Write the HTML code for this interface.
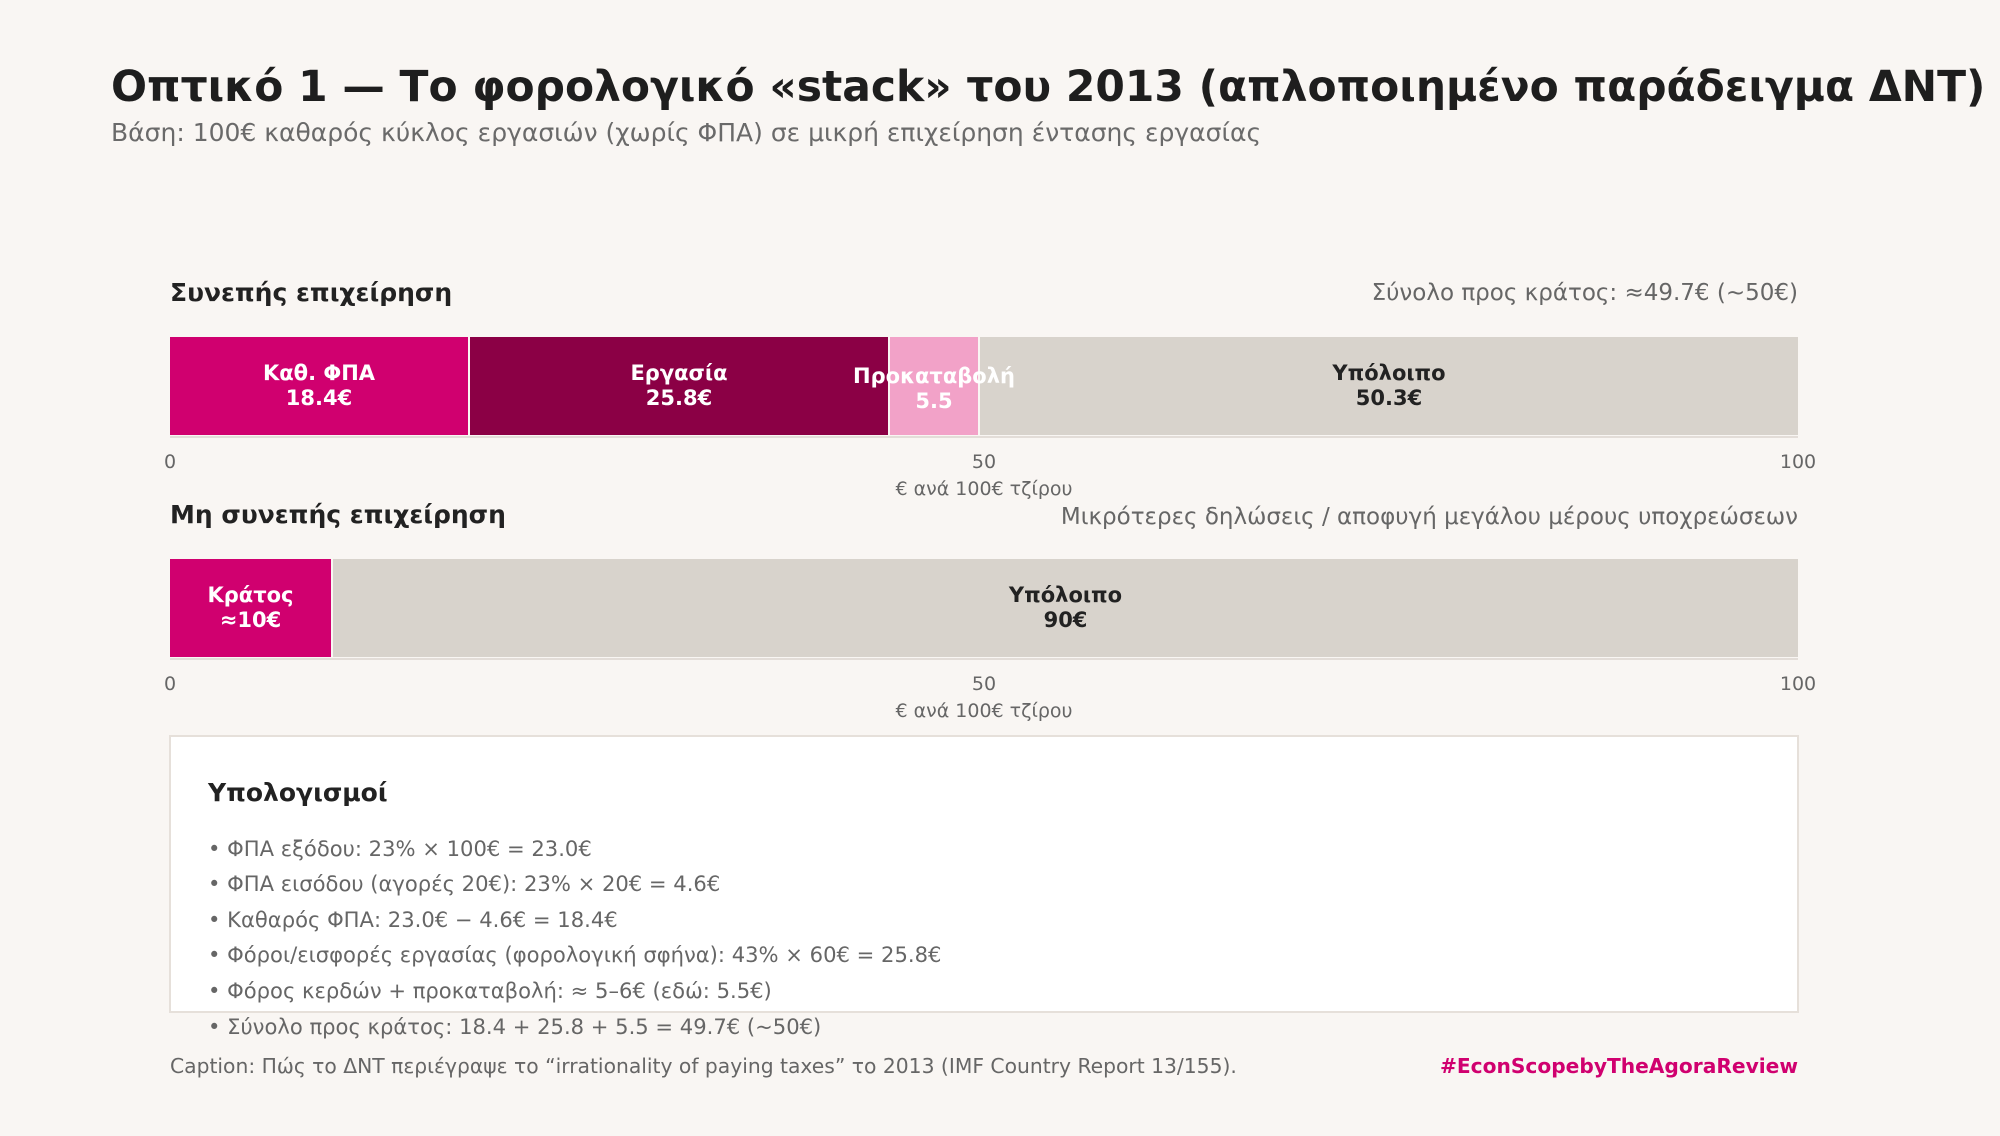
<!DOCTYPE html>
<html><head><meta charset="utf-8"><style>
body{margin:0;width:2000px;height:1136px;background:#f9f6f3;font-family:"DejaVu Sans","Liberation Sans",sans-serif;position:relative;overflow:hidden}
.a{position:absolute;white-space:nowrap}
.seg{position:absolute;box-sizing:border-box;border-right:2px solid #f9f6f3;display:flex;align-items:center;justify-content:center;text-align:center;font-weight:bold;font-size:21px;line-height:25px;color:#fff;overflow:visible}
.tick{position:absolute;font-size:19px;color:#666;transform:translateX(-50%)}
.sec{position:absolute;font-weight:bold;font-size:25px;color:#222}
.b{position:absolute;left:208px;font-size:21.1px;color:#666}
</style></head><body>
<div class="a" style="left:111px;top:62px;font-size:42.4px;font-weight:bold;color:#1e1e1e">Οπτικό 1 — Το φορολογικό «stack» του 2013 (απλοποιημένο παράδειγμα ΔΝΤ)</div>
<div class="a" style="left:111px;top:118px;font-size:25px;color:#6a6a6a">Βάση: 100€ καθαρός κύκλος εργασιών (χωρίς ΦΠΑ) σε μικρή επιχείρηση έντασης εργασίας</div>

<div class="sec" style="left:170px;top:278px">Συνεπής επιχείρηση</div>
<div class="a" style="right:202px;top:280px;font-size:23px;color:#666">Σύνολο προς κράτος: ≈49.7€ (~50€)</div>
<div class="a" style="left:170px;top:336px;width:1628px;height:100px;border-bottom:2px solid #e3ddd8"></div>
<div class="seg" style="left:170px;top:337px;width:300px;height:98px;background:#d0006f">Καθ. ΦΠΑ<br>18.4€</div>
<div class="seg" style="left:470px;top:337px;width:420px;height:98px;background:#8b0045">Εργασία<br>25.8€</div>
<div class="seg" style="left:980px;top:337px;width:818px;height:98px;background:#d8d3cc;color:#222;border-right:none">Υπόλοιπο<br>50.3€</div>
<div class="seg" style="left:890px;top:337px;width:90px;height:98px;background:#f2a2c8;padding-top:6px;z-index:2">Προκαταβολή<br>5.5</div>
<div class="tick" style="left:170px;top:451px">0</div>
<div class="tick" style="left:984px;top:451px">50</div>
<div class="tick" style="left:1798px;top:451px">100</div>
<div class="tick" style="left:984px;top:478px">€ ανά 100€ τζίρου</div>

<div class="sec" style="left:170px;top:500px">Μη συνεπής επιχείρηση</div>
<div class="a" style="right:202px;top:504px;font-size:23px;color:#666">Μικρότερες δηλώσεις / αποφυγή μεγάλου μέρους υποχρεώσεων</div>
<div class="a" style="left:170px;top:558px;width:1628px;height:100px;border-bottom:2px solid #e3ddd8"></div>
<div class="seg" style="left:170px;top:559px;width:163px;height:98px;background:#d0006f">Κράτος<br>≈10€</div>
<div class="seg" style="left:333px;top:559px;width:1465px;height:98px;background:#d8d3cc;color:#222;border-right:none">Υπόλοιπο<br>90€</div>
<div class="tick" style="left:170px;top:673px">0</div>
<div class="tick" style="left:984px;top:673px">50</div>
<div class="tick" style="left:1798px;top:673px">100</div>
<div class="tick" style="left:984px;top:700px">€ ανά 100€ τζίρου</div>

<div class="a" style="left:169px;top:735px;width:1630px;height:278px;background:#fff;border:2px solid #e6e0da;box-sizing:border-box"></div>
<div class="sec" style="left:208px;top:778px">Υπολογισμοί</div>
<div class="b" style="top:836px">• ΦΠΑ εξόδου: 23% × 100€ = 23.0€</div>
<div class="b" style="top:871px">• ΦΠΑ εισόδου (αγορές 20€): 23% × 20€ = 4.6€</div>
<div class="b" style="top:907px">• Καθαρός ΦΠΑ: 23.0€ − 4.6€ = 18.4€</div>
<div class="b" style="top:942px">• Φόροι/εισφορές εργασίας (φορολογική σφήνα): 43% × 60€ = 25.8€</div>
<div class="b" style="top:978px">• Φόρος κερδών + προκαταβολή: ≈ 5–6€ (εδώ: 5.5€)</div>
<div class="b" style="top:1014px">• Σύνολο προς κράτος: 18.4 + 25.8 + 5.5 = 49.7€ (~50€)</div>

<div class="a" style="left:170px;top:1054px;font-size:20.3px;color:#666">Caption: Πώς το ΔΝΤ περιέγραψε το “irrationality of paying taxes” το 2013 (IMF Country Report 13/155).</div>
<div class="a" style="right:202px;top:1054px;font-size:20.2px;font-weight:bold;color:#d0006f">#EconScopebyTheAgoraReview</div>
</body></html>
